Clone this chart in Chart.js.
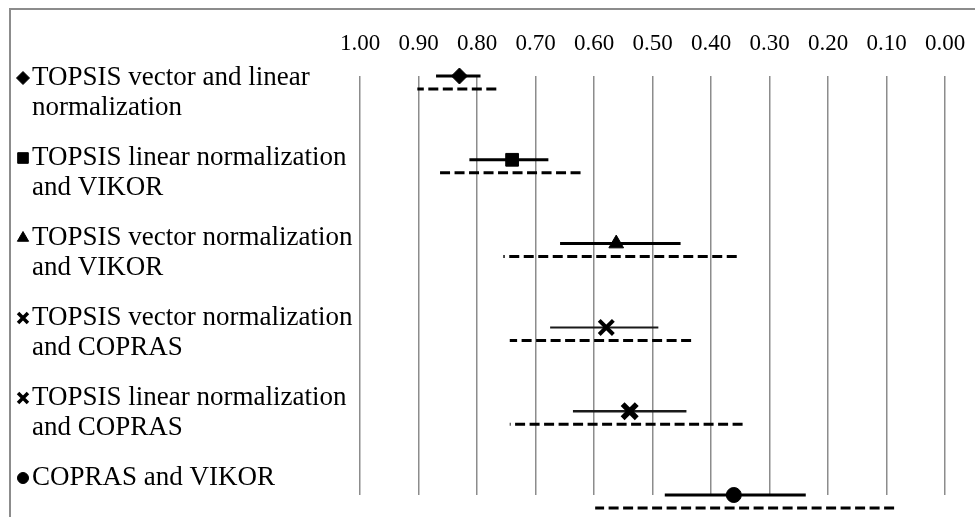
<!DOCTYPE html>
<html>
<head>
<meta charset="utf-8">
<script src="https://cdn.jsdelivr.net/npm/chart.js@4/dist/chart.umd.min.js"></script>
<style>
  html, body { margin: 0; padding: 0; background: #fff; }
  #wrap { width: 975px; height: 517px; position: relative; }
</style>
</head>
<body>
<div id="wrap"><canvas id="chartRanks"></canvas></div>
<script>
// ── Data ─────────────────────────────────────────────────────────────
const rowLabels = [
    ['TOPSIS vector and linear', 'normalization'],
    ['TOPSIS linear normalization', 'and VIKOR'],
    ['TOPSIS vector normalization', 'and VIKOR'],
    ['TOPSIS vector normalization', 'and COPRAS'],
    ['TOPSIS linear normalization', 'and COPRAS'],
    ['COPRAS and VIKOR']
];
const pointValues = [0.830, 0.740, 0.562, 0.579, 0.539, 0.361];
const solidLow    = [0.794, 0.678, 0.452, 0.490, 0.442, 0.238];
const solidHigh   = [0.870, 0.813, 0.658, 0.675, 0.636, 0.479];
const dashedLow   = [0.767, 0.623, 0.356, 0.434, 0.346, 0.087];
const dashedHigh  = [0.902, 0.864, 0.755, 0.744, 0.744, 0.598];
const tickValues  = [1.0, 0.9, 0.8, 0.7, 0.6, 0.5, 0.4, 0.3, 0.2, 0.1, 0.0];

// ── Styles ───────────────────────────────────────────────────────────
const markerStyles = [
    { pointStyle: 'rectRot',  radius: 8,   borderWidth: 1,   legendR: 6.5 },
    { pointStyle: 'rect',     radius: 9,   borderWidth: 1,   legendR: 7.5 },
    { pointStyle: 'triangle', radius: 8.5, borderWidth: 1,   legendR: 6.5 },
    { pointStyle: 'crossRot', radius: 10,  borderWidth: 4,   legendR: 7 },
    { pointStyle: 'crossRot', radius: 10,  borderWidth: 5.5, legendR: 7 },
    { pointStyle: 'circle',   radius: 7.5, borderWidth: 1,   legendR: 5.5 }
];
const solidWidths = [3, 3, 3, 2, 2.5, 3];
const dashOffset  = 0.155;   // dashed bar sits a little below its row
const serif = "'Liberation Serif', 'Times New Roman', serif";

const datasets = [];
rowLabels.forEach((lbl, i) => {
    const m = markerStyles[i];
    datasets.push({
        data: [{ x: pointValues[i], y: i }],
        pointStyle: m.pointStyle,
        pointRadius: m.radius,
        pointBorderWidth: m.borderWidth,
        pointBackgroundColor: '#000',
        pointBorderColor: '#000',
        showLine: false,
        clip: false,
        order: 0
    });
    datasets.push({
        data: [{ x: solidLow[i], y: i }, { x: solidHigh[i], y: i }],
        borderColor: i === 3 || i === 4 ? '#1a1a1a' : '#000',
        borderWidth: solidWidths[i],
        pointRadius: 0,
        showLine: true,
        clip: false,
        order: 1
    });
    datasets.push({
        data: [{ x: dashedLow[i], y: i + dashOffset }, { x: dashedHigh[i], y: i + dashOffset }],
        borderColor: '#000',
        borderWidth: 3,
        borderDash: [10, 4.5],
        pointRadius: 0,
        showLine: true,
        clip: false,
        order: 2
    });
});

// ── Frame + left labels ─────────────────────────────────────────────
const framePlugin = {
    id: 'frame',
    beforeDraw(chart) {
        const ctx = chart.ctx;
        ctx.save();
        ctx.strokeStyle = '#8c8c8c';
        ctx.lineWidth = 2;
        ctx.strokeRect(10, 9, 1000, 600);
        ctx.restore();
    }
};

const rowLabelPlugin = {
    id: 'rowLabels',
    afterDraw(chart) {
        const ctx = chart.ctx;
        ctx.save();
        ctx.font = '27px ' + serif;
        ctx.textBaseline = 'middle';
        rowLabels.forEach((lines, i) => {
            const y = 78 + i * 80;
            const m = markerStyles[i];
            ctx.fillStyle = '#000';
            ctx.strokeStyle = '#000';
            ctx.lineWidth = m.borderWidth > 1 ? 3.5 : 1;
            Chart.helpers.drawPoint(ctx, {
                pointStyle: m.pointStyle,
                radius: m.legendR,
                borderWidth: ctx.lineWidth
            }, 23, y);
            lines.forEach((t, k) => {
                ctx.fillText(t, 32, y + k * 30);
            });
        });
        ctx.restore();
    }
};

new Chart(document.getElementById('chartRanks'), {
    type: 'scatter',
    data: { datasets },
    options: {
        responsive: true,
        maintainAspectRatio: false,
        animation: false,
        layout: { padding: { left: 360, right: 30, top: 18, bottom: 22 } },
        plugins: { legend: { display: false }, tooltip: { enabled: false } },
        scales: {
            x: {
                type: 'linear',
                position: 'top',
                reverse: true,
                min: 0,
                max: 1,
                afterBuildTicks: s => { s.ticks = tickValues.map(v => ({ value: v })); },
                afterFit: s => { s.height = 58; s.paddingLeft = 0; s.paddingRight = 0; },
                border: { display: false },
                grid: { color: '#8c8c8c', lineWidth: 1.5, drawTicks: false },
                ticks: {
                    color: '#000',
                    padding: 18,
                    maxRotation: 0,
                    autoSkip: false,
                    font: { family: serif, size: 23 },
                    callback: v => v.toFixed(2)
                }
            },
            y: {
                type: 'linear',
                display: false,
                reverse: true,
                min: 0,
                max: rowLabels.length - 1
            }
        }
    },
    plugins: [framePlugin, rowLabelPlugin]
});
</script>
</body>
</html>
